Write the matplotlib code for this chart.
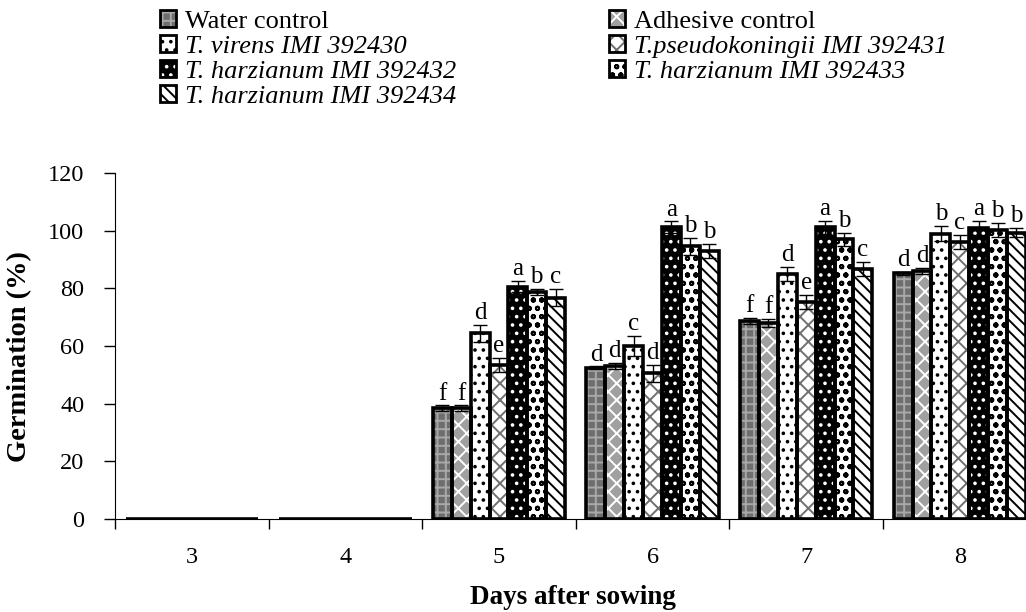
import numpy as np
import matplotlib
matplotlib.use('Agg')
import matplotlib.pyplot as plt
from matplotlib.patches import Rectangle
from matplotlib.legend_handler import HandlerTuple

plt.rcParams['font.family'] = ['Liberation Serif', 'DejaVu Serif']
plt.rcParams['hatch.linewidth'] = 1.4

days = ['3', '4', '5', '6', '7', '8']
series = ['Water control', 'Adhesive control', 'T. virens IMI 392430',
          'T.pseudokoningii IMI 392431', 'T. harzianum IMI 392432',
          'T. harzianum IMI 392433', 'T. harzianum IMI 392434']

water = [0, 0, 38.4, 52.4, 68.8, 85.2]
adhesive = [0, 0, 38.4, 53.0, 68.0, 86.0]
virens = [0, 0, 64.4, 60.0, 85.0, 99.0]
pseudo = [0, 0, 53.4, 50.5, 75.2, 96.0]
harz432 = [0, 0, 80.6, 101.2, 101.2, 101.0]
harz433 = [0, 0, 78.8, 94.6, 97.0, 100.2]
harz434 = [0, 0, 76.8, 93.0, 86.8, 99.3]

water_err = [0, 0, 1.0, 0.5, 1.0, 0.5]
adhesive_err = [0, 0, 1.0, 1.0, 1.5, 1.0]
virens_err = [0, 0, 3.0, 3.5, 2.5, 2.5]
pseudo_err = [0, 0, 2.5, 3.0, 2.4, 2.4]
harz432_err = [0, 0, 2.0, 2.0, 2.2, 2.4]
harz433_err = [0, 0, 1.0, 3.0, 2.2, 2.5]
harz434_err = [0, 0, 3.0, 2.4, 2.4, 1.5]

# significance letters for days 5-8
letters = [
    ['', '', 'f', 'd', 'f', 'd'],
    ['', '', 'f', 'd', 'f', 'd'],
    ['', '', 'd', 'c', 'd', 'b'],
    ['', '', 'e', 'd', 'e', 'c'],
    ['', '', 'a', 'a', 'a', 'a'],
    ['', '', 'b', 'b', 'b', 'b'],
    ['', '', 'c', 'b', 'c', 'b'],
]

values = [water, adhesive, virens, pseudo, harz432, harz433, harz434]
errors = [water_err, adhesive_err, virens_err, pseudo_err, harz432_err, harz433_err, harz434_err]

# (facecolor, hatch, hatch colour)
styles = [
    ('#6e6e6e', '++', '#a8a8a8'),
    ('#a0a0a0', 'xx', 'white'),
    ('white', '..', 'black'),
    ('white', 'xx', '#707070'),
    ('black', '..', 'white'),
    ('white', 'oo', 'black'),
    ('white', '\\\\\\', 'black'),
]

fig = plt.figure(figsize=(10.26, 6.12), dpi=100)
ax = fig.add_axes([115 / 1026, 93 / 612, 921.6 / 1026, 346 / 612])

x = np.arange(len(days))
w = 0.123
handles = []
for i in range(len(series)):
    pos = x + (i - 3) * w
    fc, hatch, hc = styles[i]
    ax.bar(pos, values[i], w, color=fc, edgecolor=hc, hatch=hatch, linewidth=0, zorder=2)
    ax.bar(pos, values[i], w, color='none', edgecolor='black', linewidth=2.6, zorder=3)
    ax.errorbar(pos[2:], values[i][2:], yerr=errors[i][2:], fmt='none', ecolor='black',
                elinewidth=1.0, capsize=5, capthick=1.0, zorder=4)
    for j in range(2, len(days)):
        ax.text(pos[j], values[i][j] + errors[i][j] + 0.3, letters[i][j],
                ha='center', va='bottom', fontsize=18)
    h1 = Rectangle((0, 0), 1, 1, facecolor=fc, edgecolor=hc, hatch=hatch, linewidth=0)
    h2 = Rectangle((0, 0), 1, 1, facecolor='none', edgecolor='black', linewidth=2.0)
    handles.append((h1, h2))

ax.set_xlim(-0.5, 5.5)
ax.set_ylim(0, 120)
ax.set_yticks(range(0, 121, 20))
ax.set_xticks(x)
ax.set_xticklabels(days)
ax.set_xticks(np.arange(-0.5, 6.0, 1.0), minor=True)
ax.tick_params(axis='x', which='major', length=0, pad=20, labelsize=17.5)
ax.tick_params(axis='x', which='minor', length=7, direction='out', width=1)
ax.tick_params(axis='y', length=8, direction='out', width=1, labelsize=17.5, pad=14)
for s in ['top', 'right']:
    ax.spines[s].set_visible(False)

ax.set_ylabel('Germination (%)', fontsize=20.5, fontweight='bold')
ax.yaxis.set_label_coords(-0.09, 0.47)
ax.set_xlabel('Days after sowing', fontsize=19.5, fontweight='bold')
ax.xaxis.set_label_coords(0.497, -0.19)

order = [0, 2, 4, 6, 1, 3, 5]
leg = fig.legend([handles[k] for k in order], [series[k] for k in order], ncol=2,
                 loc='upper left', bbox_to_anchor=(136 / 1026, 1.022), frameon=False,
                 fontsize=19, handlelength=0.6, handleheight=0.6, handletextpad=0.35,
                 labelspacing=0.09, columnspacing=5.8,
                 handler_map={tuple: HandlerTuple(ndivide=1)})
for k, t in zip(order, leg.get_texts()):
    if k >= 2:
        t.set_fontstyle('italic')

fig.savefig('out.png', dpi=100)
